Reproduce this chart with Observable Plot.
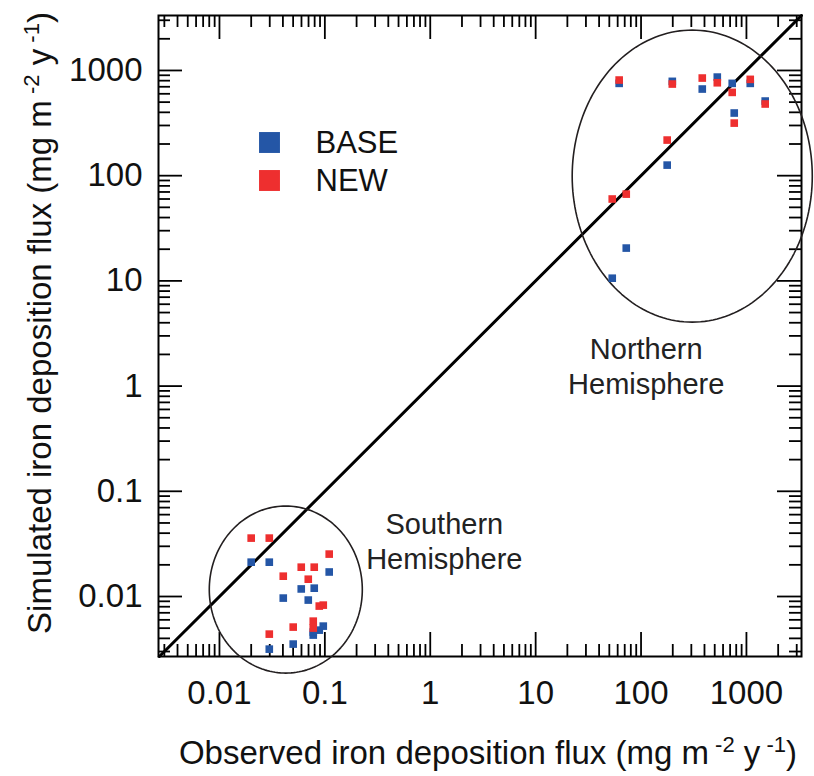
<!DOCTYPE html>
<html><head><meta charset="utf-8">
<script src="https://cdn.jsdelivr.net/npm/d3@7"></script>
<script src="https://cdn.jsdelivr.net/npm/@observablehq/plot@0.6"></script>
<style>body{margin:0;background:#fff}</style>
</head><body><div id="chart"></div>
<script>
// Northern Hemisphere stations: observed flux, BASE simulated, NEW simulated (mg m-2 y-1)
const nhObs  = [53.3, 62, 72.4, 177, 198, 381, 529, 733, 766, 1087, 1507];
const nhBase = [10.6, 754, 20.5, 126, 788, 666, 865, 754, 394, 754, 512];
const nhNew  = [60, 811, 66.8, 218, 743, 847, 764, 619, 316, 823, 480];
// Southern Hemisphere stations
const shObs  = [0.0200, 0.0297, 0.110, 0.0403, 0.0597, 0.0793, 0.0696, 0.0885, 0.0966, 0.0776, 0.0776, 0.0501, 0.0297];
const shBase = [0.0212, 0.0212, 0.0171, 0.00966, 0.0118, 0.0120, 0.00925, 0.00479, 0.00523, 0.00430, 0.00459, 0.00353, 0.00316];
const shNew  = [0.0359, 0.0359, 0.0253, 0.0156, 0.0190, 0.0190, 0.0146, 0.00811, 0.00828, 0.00583, 0.00501, 0.00512, 0.00439];

const seriesNames  = ["BASE", "NEW"];
const seriesColors = ["#2456a6", "#ee2f2f"];
const majorTicks   = [0.01, 0.1, 1, 10, 100, 1000];
const xDomain = [0.00264, 3330];
const yDomain = [0.00269, 3330];

// hemisphere ellipses: centre (data units) and radii (decades)
const ellipseNames = ["Northern\nHemisphere", "Southern\nHemisphere"];
const ellipseCx = [306, 0.0426];
const ellipseCy = [99, 0.01164];
const ellipseRx = [1.139, 0.726];
const ellipseRy = [1.388, 0.794];
// annotation anchors (data units)
const annoX = [112, 1.36];
const annoY = [1.57, 0.034];

const xLabelParts = [["Observed iron deposition flux (mg m", 0], [" -2", 1], [" y", 0], [" -1", 1], [")", 0]];
const yLabelParts = [["Simulated iron deposition flux (mg m", 0], [" -2", 1], [" y", 0], [" -1", 1], [")", 0]];

// ---------- derived tables ----------
const obsAll = nhObs.concat(shObs);
const baseAll = nhBase.concat(shBase);
const newAll = nhNew.concat(shNew);
const baseRows = obsAll.map((o, i) => ({obs: o, sim: baseAll[i]}));
const newRows  = obsAll.map((o, i) => ({obs: o, sim: newAll[i]}));

const minorAll = d3.range(-3, 4).flatMap(k => d3.range(2, 10).map(m => +(m * Math.pow(10, k)).toPrecision(3)));
const minorX = minorAll.filter(v => v >= xDomain[0] && v <= xDomain[1]);
const minorY = minorAll.filter(v => v >= yDomain[0] && v <= yDomain[1]);

const ellipsePts = ellipseNames.flatMap((n, i) => d3.range(0, 360, 2).map(a => {
  const t = a * Math.PI / 180;
  return {name: n,
    x: Math.pow(10, Math.log10(ellipseCx[i]) + ellipseRx[i] * Math.cos(t)),
    y: Math.pow(10, Math.log10(ellipseCy[i]) + ellipseRy[i] * Math.sin(t))};
}));
const annoRows = ellipseNames.map((n, i) => ({name: n, x: annoX[i], y: annoY[i]}));

const lo = Math.max(xDomain[0], yDomain[0]), hi = Math.min(xDomain[1], yDomain[1]);
const diag = [{x: lo, y: lo}, {x: hi, y: hi}];

const W = 814, H = 776, mL = 158, mR = 13, mT = 15, mB = 120;
const fw = W - mL - mR, fh = H - mT - mB;
const minorLen = 12, majorLen = 24, tickW = 1.8;
const font = "'Liberation Sans', Arial, Helvetica, sans-serif";

const svg = Plot.plot({
  width: W, height: H,
  marginLeft: mL, marginRight: mR, marginTop: mT, marginBottom: mB,
  style: {fontFamily: font, background: "#fff", overflow: "visible"},
  x: {type: "log", domain: xDomain},
  y: {type: "log", domain: yDomain},
  marks: [
    // inward ticks on all four sides
    Plot.ruleX(minorX, {insetTop: fh - minorLen, stroke: "#000", strokeWidth: tickW}),
    Plot.ruleX(minorX, {insetBottom: fh - minorLen, stroke: "#000", strokeWidth: tickW}),
    Plot.ruleX(majorTicks, {insetTop: fh - majorLen, stroke: "#000", strokeWidth: tickW}),
    Plot.ruleX(majorTicks, {insetBottom: fh - majorLen, stroke: "#000", strokeWidth: tickW}),
    Plot.ruleY(minorY, {insetRight: fw - minorLen, stroke: "#000", strokeWidth: tickW}),
    Plot.ruleY(minorY, {insetLeft: fw - minorLen, stroke: "#000", strokeWidth: tickW}),
    Plot.ruleY(majorTicks, {insetRight: fw - majorLen, stroke: "#000", strokeWidth: tickW}),
    Plot.ruleY(majorTicks, {insetLeft: fw - majorLen, stroke: "#000", strokeWidth: tickW}),
    Plot.frame({stroke: "#000", strokeWidth: 2}),
    // 1:1 line
    Plot.line(diag, {x: "x", y: "y", stroke: "#000", strokeWidth: 3}),
    // hemisphere ellipses
    Plot.line(ellipsePts, {x: "x", y: "y", z: "name", curve: "linear-closed", stroke: "#231f20", strokeWidth: 1.6}),
    // data
    Plot.dot(baseRows, {x: "obs", y: "sim", symbol: "square", r: 4.3, fill: seriesColors[0]}),
    Plot.dot(newRows,  {x: "obs", y: "sim", symbol: "square", r: 4.3, fill: seriesColors[1]}),
    // legend
    Plot.dot([seriesNames[0]], {frameAnchor: "top-left", dx: 111, dy: 127, symbol: "square", r: 11.8, fill: seriesColors[0]}),
    Plot.dot([seriesNames[1]], {frameAnchor: "top-left", dx: 111, dy: 165, symbol: "square", r: 11.8, fill: seriesColors[1]}),
    Plot.text([seriesNames[0]], {frameAnchor: "top-left", dx: 157, dy: 128, textAnchor: "start", lineAnchor: "middle", fontSize: 31, fill: "#111"}),
    Plot.text([seriesNames[1]], {frameAnchor: "top-left", dx: 157, dy: 166, textAnchor: "start", lineAnchor: "middle", fontSize: 31, fill: "#111"}),
    // hemisphere annotations
    Plot.text(annoRows, {x: "x", y: "y", text: "name", textAnchor: "middle", fontSize: 29, lineHeight: 1.2, fill: "#222"}),
    // tick labels
    Plot.axisX({anchor: "bottom", ticks: majorTicks, tickSize: 0, tickPadding: 24, tickFormat: d => String(d), fontSize: 33, label: null, fill: "#111"}),
    Plot.axisY({anchor: "left", ticks: majorTicks, tickSize: 0, tickPadding: 16, tickFormat: d => String(d), fontSize: 33, label: null, fill: "#111"}),
    // axis titles (rich text added below)
    Plot.text(["__XLABEL__"], {frameAnchor: "bottom", lineAnchor: "bottom", dx: 8, dy: 107, fontSize: 33, fill: "#111"}),
    Plot.text(["__YLABEL__"], {frameAnchor: "left", lineAnchor: "bottom", textAnchor: "middle", rotate: -90, dx: -108, dy: -13, fontSize: 33, fill: "#111"})
  ]
});

function richLabel(node, parts) {
  const t = d3.select(node);
  t.text(null);
  let raised = false;
  for (const [s, sup] of parts) {
    const ts = t.append("tspan").text(s);
    if (sup) { ts.attr("font-size", 22); if (!raised) ts.attr("dy", -12); raised = true; }
    else { if (raised) ts.attr("dy", 12); raised = false; }
  }
}
d3.select(svg).selectAll("text").each(function() {
  if (this.textContent === "__XLABEL__") richLabel(this, xLabelParts);
  else if (this.textContent === "__YLABEL__") richLabel(this, yLabelParts);
});

document.getElementById("chart").appendChild(svg);
</script>
</body></html>
